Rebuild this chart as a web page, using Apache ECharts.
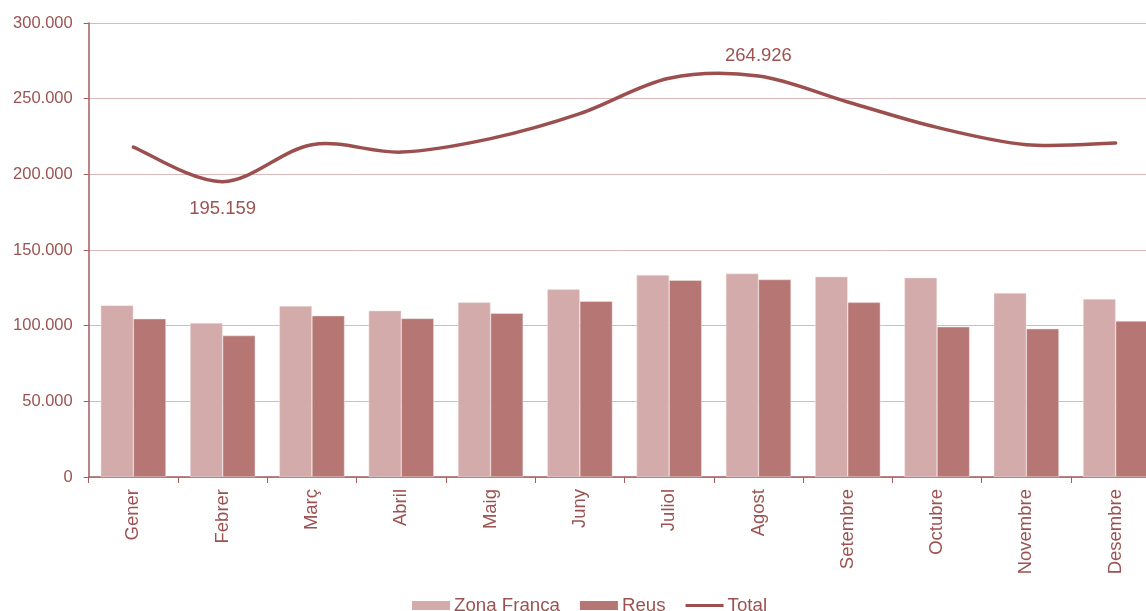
<!DOCTYPE html>
<html><head><meta charset="utf-8">
<script src="https://cdn.jsdelivr.net/npm/echarts@6/dist/echarts.min.js"></script>
<style>html,body{margin:0;padding:0;background:#fff}#c{width:1146px;height:611px}</style>
</head><body><div id="c"></div>
<script>
const categories = ['Gener','Febrer','Març','Abril','Maig','Juny','Juliol','Agost','Setembre','Octubre','Novembre','Desembre'];
const zonaFranca = [113400, 101700, 113000, 109900, 115400, 124000, 133500, 134400, 132400, 131700, 121600, 117600];
const reus = [104600, 93459, 106600, 104800, 108200, 116100, 130000, 130526, 115400, 99300, 98000, 103100];
const total = [218000, 195159, 219600, 214700, 223600, 240100, 263500, 264926, 247800, 231000, 219600, 220700];
const yTicks = [0, 50000, 100000, 150000, 200000, 250000, 300000];

const txt = '#9b5252';
const lineColor = '#9b4f4f';
const font = 'Liberation Sans, Arial, sans-serif';
const fmt = v => String(Math.round(v)).replace(/\B(?=(\d{3})+(?!\d))/g, '.');

// Smooth (Excel-like) curve drawn through the axis scales via api.coord
function renderSmooth(params, api) {
  if (params.dataIndex !== 0) return null;
  const pts = total.map((v, i) => api.coord([i, v]));
  const n = pts.length;
  let d = 'M' + pts[0][0] + ' ' + pts[0][1];
  for (let i = 0; i < n - 1; i++) {
    const p0 = pts[Math.max(i - 1, 0)], p1 = pts[i], p2 = pts[i + 1], p3 = pts[Math.min(i + 2, n - 1)];
    const t = 1 / 6;
    const c1x = p1[0] + (p2[0] - p0[0]) * t, c1y = p1[1] + (p2[1] - p0[1]) * t;
    const c2x = p2[0] - (p3[0] - p1[0]) * t, c2y = p2[1] - (p3[1] - p1[1]) * t;
    d += ' C' + c1x + ' ' + c1y + ' ' + c2x + ' ' + c2y + ' ' + p2[0] + ' ' + p2[1];
  }
  return {type: 'path', shape: {pathData: d}, style: {fill: 'none', stroke: lineColor, lineWidth: 3.5, lineCap: 'round', lineJoin: 'round'}};
}

const chart = echarts.init(document.getElementById('c'));
chart.setOption({
  animation: false,
  textStyle: {fontFamily: font},
  grid: {left: 88.7, width: 1071.6, top: 23, bottom: 134, outerBoundsMode: 'none', containLabel: false},
  legend: {
    left: 407, top: 591, itemGap: 20, itemWidth: 38, itemHeight: 9,
    textStyle: {color: txt, fontSize: 18.7, fontFamily: font, padding: [0, 0, 0, -1]},
    itemStyle: {borderWidth: 0},
    data: [
      {name:'Zona Franca', icon:'rect'},
      {name:'Reus', icon:'rect'},
      {name:'Total', icon:'path://M0,0 L38,0 L38,3.2 L0,3.2 Z', itemStyle: {color: lineColor, borderWidth: 0}}
    ]
  },
  xAxis: {
    type: 'category', data: categories,
    axisLine: {lineStyle: {color: '#a45c5c', width: 1.5}},
    axisTick: {show: true, length: 6, lineStyle: {color: '#a45c5c'}},
    axisLabel: {rotate: 90, color: txt, fontSize: 18.5, margin: 12}
  },
  yAxis: {
    type: 'value', min: yTicks[0], max: yTicks[yTicks.length-1], interval: 50000,
    axisLine: {show: true, lineStyle: {color: '#a45c5c', width: 1.5}},
    axisTick: {show: true, length: 5, lineStyle: {color: '#a45c5c'}},
    splitLine: {lineStyle: {color: '#d9b9b9', width: 1}},
    axisLabel: {color: txt, fontSize: 16.5, margin: 16, formatter: v => fmt(v)}
  },
  series: [
    {name: 'Zona Franca', type: 'bar', data: zonaFranca, barWidth: 32.6, barGap: '0%',
      itemStyle: {color: '#d3abaa', borderColor: '#f3e6e6', borderWidth: 0.5}},
    {name: 'Reus', type: 'bar', data: reus, barWidth: 32.6,
      itemStyle: {color: '#b67674', borderColor: '#f3e6e6', borderWidth: 0.5}},
    {name: 'Total', type: 'line', data: total,
      symbol: 'none', lineStyle: {opacity: 0}, itemStyle: {color: lineColor}, z: 6,
      markPoint: {
        symbol: 'circle', symbolSize: 0,
        data: [
          {type: 'min', label: {position: 'bottom', distance: 18}},
          {type: 'max', label: {position: 'top', distance: 11}}
        ],
        label: {show: true, color: txt, fontSize: 18.5, fontFamily: font, formatter: p => fmt(p.value)}
      }},
    {name: 'Total', type: 'custom', data: total.map((v, i) => [i, v]), encode: {x: 0, y: 1},
      renderItem: renderSmooth, z: 5, silent: true}
  ]
});
</script></body></html>
